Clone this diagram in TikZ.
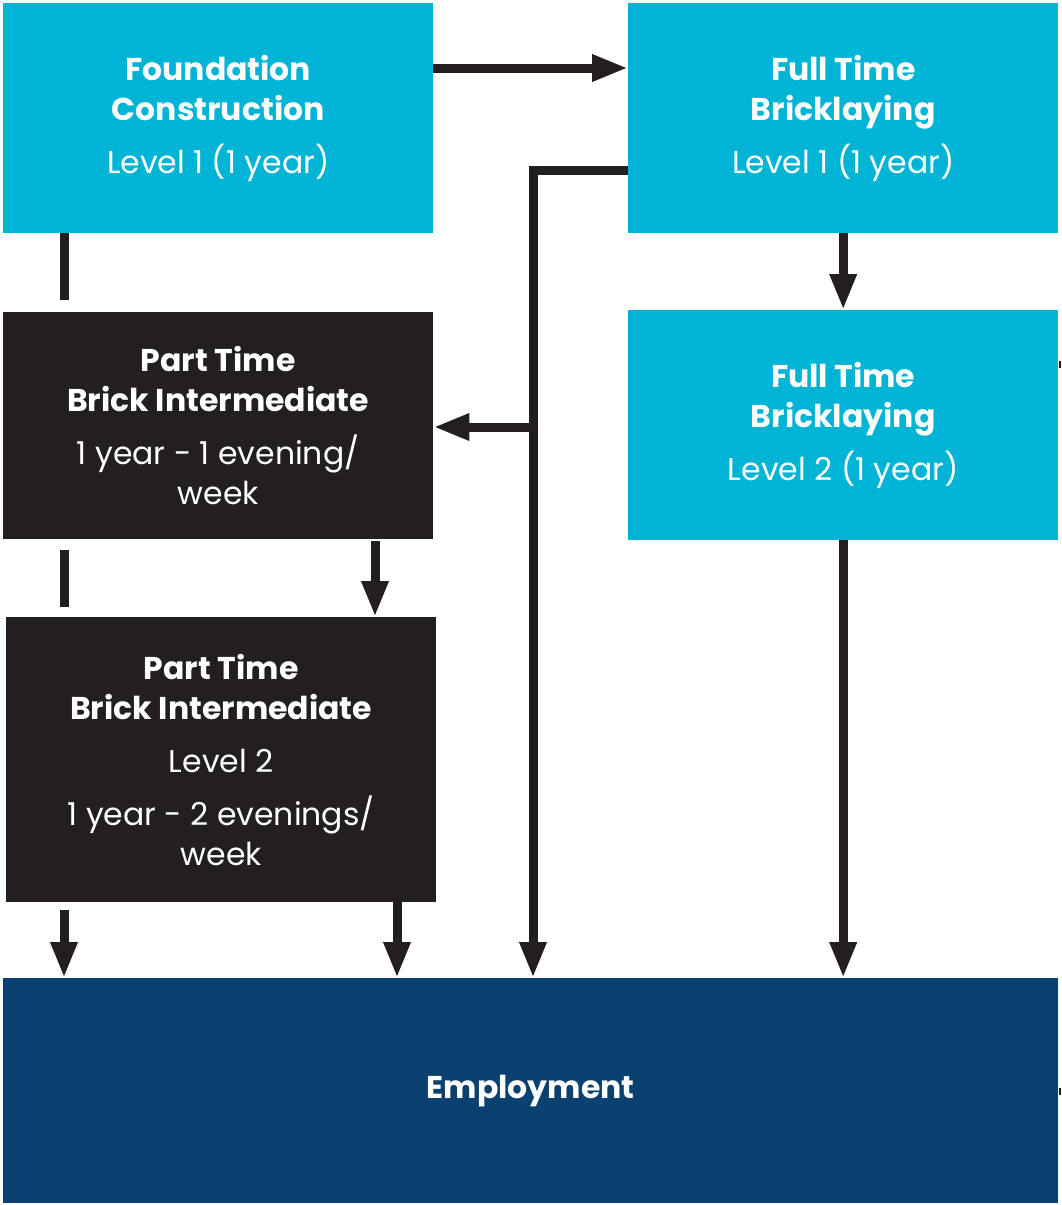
\documentclass[tikz,border=0pt]{standalone}
\usepackage{fontspec}
\setmainfont{Poppins}
\usetikzlibrary{arrows.meta}
\definecolor{cyanbox}{HTML}{00B4D6}
\definecolor{darkbox}{HTML}{231F20}
\definecolor{navybox}{HTML}{0A4170}
\begin{document}
\begin{tikzpicture}[x=1pt,y=-1pt,
  box/.style={anchor=north west, inner sep=0pt, text=white, align=center,
    font=\fontsize{31.5}{40}\selectfont},
  cbox/.style={box, fill=cyanbox},
  dbox/.style={box, fill=darkbox},
  conn/.style={draw=darkbox, line width=9pt},
  arr/.style={conn, -{Triangle[length=36pt,width=25pt]}}]
\useasboundingbox (0,0) rectangle (1061,1205);

\node[cbox, minimum width=430pt, minimum height=230pt] (found) at (3,3)
  {\textbf{Foundation}\\\textbf{Construction}\\[13pt]Level 1 (1 year)};
\node[cbox, minimum width=430pt, minimum height=230pt] (ft1) at (628,3)
  {\textbf{Full Time}\\\textbf{Bricklaying}\\[13pt]Level 1 (1 year)};
\node[cbox, minimum width=430pt, minimum height=230pt] (ft2) at (628,310)
  {\textbf{Full Time}\\\textbf{Bricklaying}\\[13pt]Level 2 (1 year)};
\node[dbox, minimum width=430pt, minimum height=227pt] (pt1) at (3,312)
  {\textbf{Part Time}\\\textbf{Brick Intermediate}\\[13pt]1 year - 1 evening/\\week};
\node[dbox, minimum width=430pt, minimum height=285pt] (pt2) at (6,617)
  {\textbf{Part Time}\\\textbf{Brick Intermediate}\\[13pt]Level 2\\[13pt]1 year - 2 evenings/\\week};
\node[box, fill=navybox, minimum width=1055pt, minimum height=225pt] (emp) at (3,978)
  {\textbf{Employment}};

\coordinate (bend) at (533,170);
\coordinate (branch) at (533,427);
\coordinate (lx) at (64,0);
\coordinate (s1) at (64,300);
\coordinate (s2a) at (64,550);
\coordinate (s2b) at (64,607);
\coordinate (s3) at (64,910);
\coordinate (x375) at (375,0);
\coordinate (x397) at (397,0);

\draw[arr] ([yshift=-65pt]found.north east) -- ([yshift=-65pt]ft1.north west);
\draw[arr] (ft1.south) -- (ft2.north);
\draw[arr] ([yshift=-167pt]ft1.north west) -- (bend) -- (bend |- emp.north);
\draw[arr] (branch) -- (branch -| pt1.east);
\draw[conn] (found.south -| lx) -- (s1);
\draw[conn] (s2a) -- (s2b);
\draw[arr] (s3) -- (s3 |- emp.north);
\draw[arr] ([yshift=-2pt]pt1.south -| x375) -- (pt2.north -| x375);
\draw[arr] (pt2.south -| x397) -- (emp.north -| x397);
\draw[arr] (ft2.south) -- (ft2.south |- emp.north);

\fill[darkbox] (1059,361) rectangle (1061,368);
\fill[darkbox] (1059,1088) rectangle (1061,1095);
\end{tikzpicture}
\end{document}
